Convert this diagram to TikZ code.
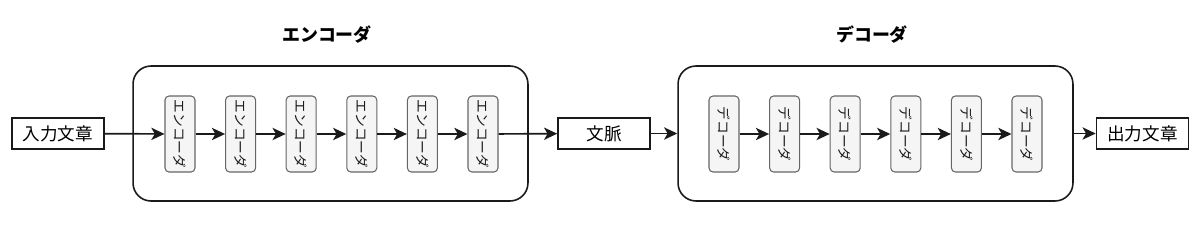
\documentclass[tikz,border=0pt]{standalone}
\usepackage{fontspec}
\setmainfont{Noto Sans CJK JP}
\usepackage{xcolor}
\usepackage{tikz}
\usetikzlibrary{arrows.meta}
\definecolor{EDLine}{HTML}{1A1A1A}
\definecolor{EDCell}{HTML}{F5F5F5}
\definecolor{EDCellLine}{HTML}{666666}
\tikzset{
  textbox/.style={draw=EDLine,line width=0.9pt,minimum width=1.84cm,minimum height=0.62cm,inner sep=0pt,font=\fontsize{10pt}{12pt}\selectfont},
  stackbox/.style={draw=EDLine,line width=0.9pt,rounded corners=0.36cm,minimum width=7.9cm,minimum height=2.7cm},
  cellbox/.style={draw=EDCellLine,fill=EDCell,line width=0.6pt,rounded corners=0.08cm,rotate=-90,minimum width=1.52cm,minimum height=0.6cm,inner sep=0pt,text=EDLine,font=\fontsize{7.8pt}{9pt}\selectfont},
  title/.style={font=\bfseries\fontsize{10.2pt}{12pt}\selectfont},
  flow/.style={draw=EDLine,line width=0.95pt,-{Stealth[length=7.5pt,width=7pt,inset=2pt]}}
}

\begin{document}
\begin{tikzpicture}[x=0.02cm,y=-0.02cm]
\path[use as bounding box] (0,0) rectangle (1200,230);
% frames
\node[stackbox] (enc) at (330.5,133.5) {};
\node[stackbox] (dec) at (875.5,133.5) {};
\node[title] (enctitle) at (327,35) {エンコーダ};
\node[title] (dectitle) at (872,35) {デコーダ};
% text boxes
\node[textbox] (src) at (58,133.5) {入力文章};
\node[textbox] (ctx) at (604,133.5) {文脈};
\node[textbox] (dst) at (1142.5,133.5) {出力文章};
% encoder cells
\node[cellbox] (enc1) at (180,134) {エンコーダ};
\node[cellbox] (enc2) at (240.6,134) {エンコーダ};
\node[cellbox] (enc3) at (301.2,134) {エンコーダ};
\node[cellbox] (enc4) at (361.8,134) {エンコーダ};
\node[cellbox] (enc5) at (422.4,134) {エンコーダ};
\node[cellbox] (enc6) at (483,134) {エンコーダ};
% decoder cells
\node[cellbox] (dec1) at (724,134) {デコーダ};
\node[cellbox] (dec2) at (784.6,134) {デコーダ};
\node[cellbox] (dec3) at (845.2,134) {デコーダ};
\node[cellbox] (dec4) at (905.8,134) {デコーダ};
\node[cellbox] (dec5) at (966.4,134) {デコーダ};
\node[cellbox] (dec6) at (1027,134) {デコーダ};
% arrows
\draw[flow] (src) -- (enc1);
\draw[flow] (enc1) -- (enc2);
\draw[flow] (enc2) -- (enc3);
\draw[flow] (enc3) -- (enc4);
\draw[flow] (enc4) -- (enc5);
\draw[flow] (enc5) -- (enc6);
\draw[flow] (enc6) -- (ctx);
\draw[flow] (ctx) -- (dec);
\draw[flow] (dec1) -- (dec2);
\draw[flow] (dec2) -- (dec3);
\draw[flow] (dec3) -- (dec4);
\draw[flow] (dec4) -- (dec5);
\draw[flow] (dec5) -- (dec6);
\draw[flow] (dec) -- (dst);
\end{tikzpicture}
\end{document}
